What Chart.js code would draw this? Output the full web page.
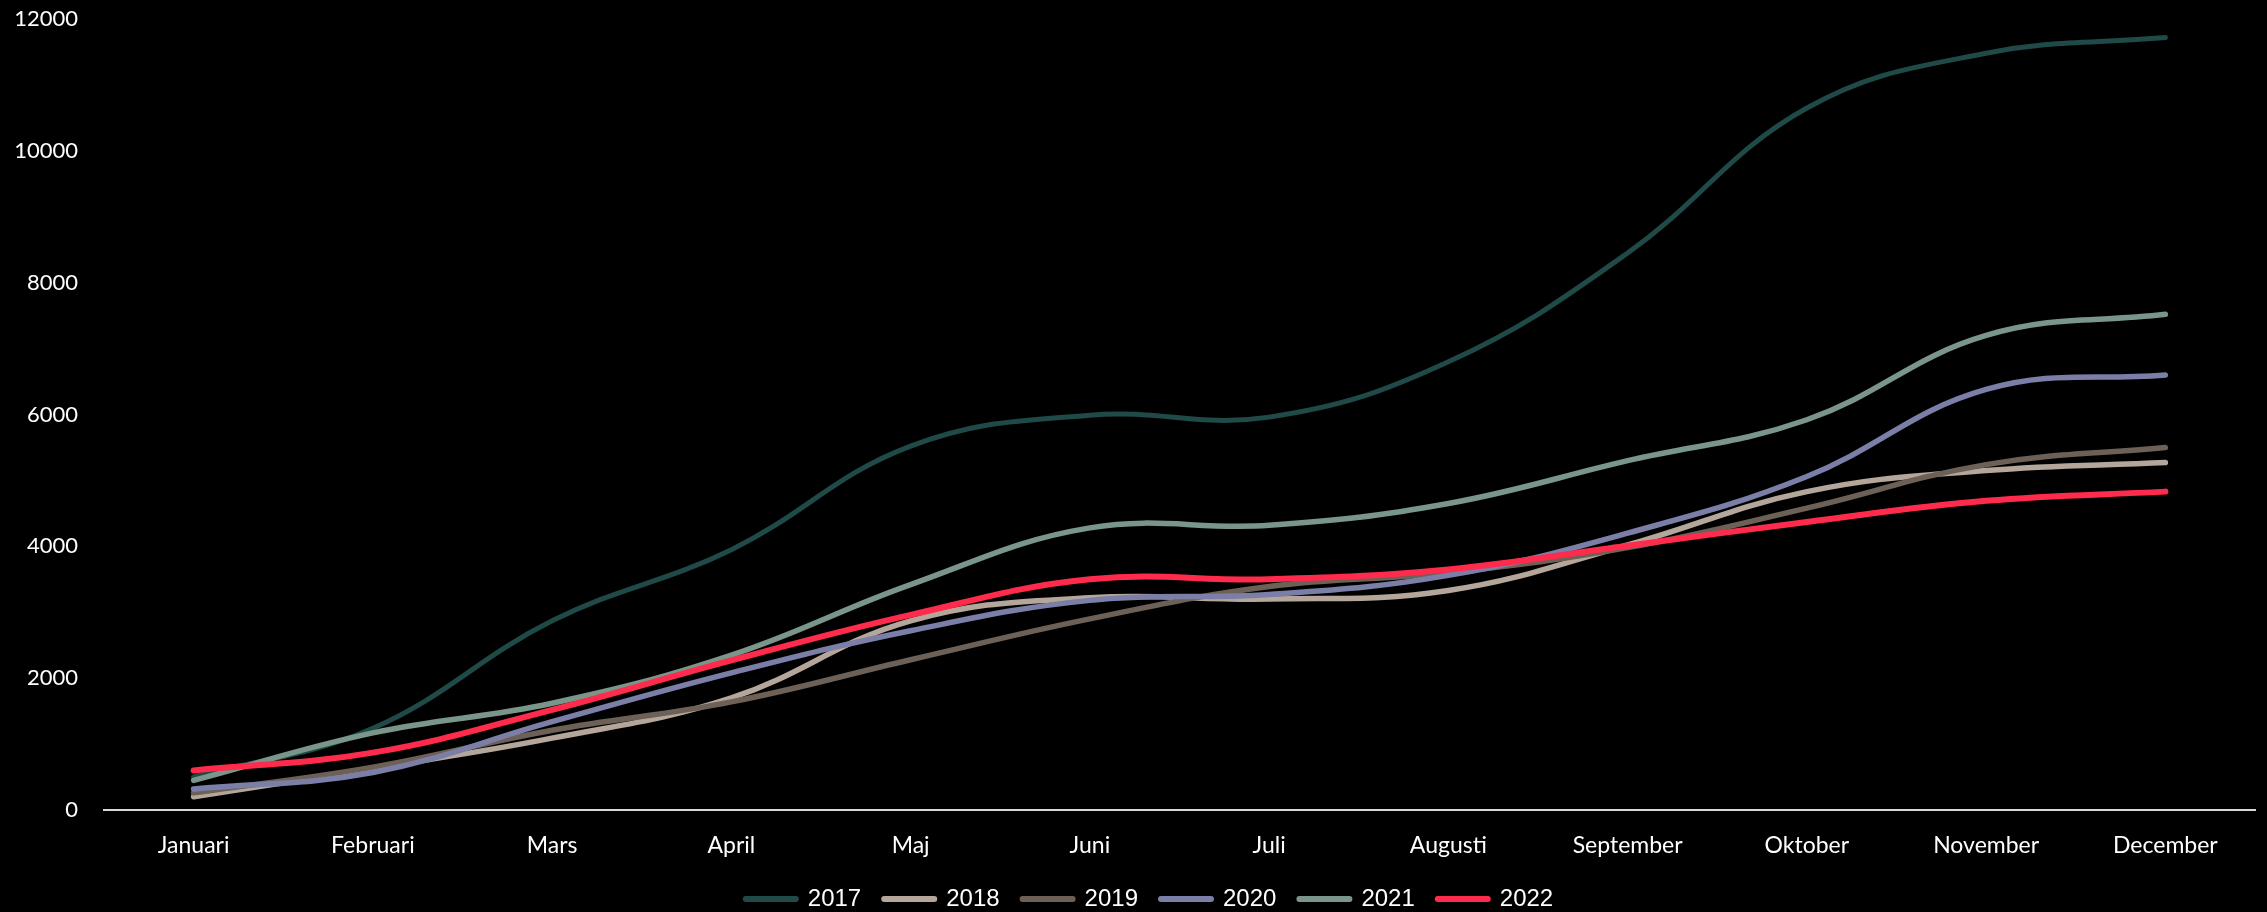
<!DOCTYPE html>
<html>
<head>
<meta charset="utf-8">
<script src="https://cdn.jsdelivr.net/npm/chart.js@4.4.1/dist/chart.umd.min.js"></script>
<style>
  html, body { margin: 0; padding: 0; background: #000; overflow: hidden; }
  #wrap { width: 2267px; height: 912px; overflow: hidden; }
</style>
</head>
<body>
<div id="wrap"><canvas id="salesChart" width="2267" height="921"></canvas></div>
<script>
const months = ['Januari', 'Februari', 'Mars', 'April', 'Maj', 'Juni', 'Juli', 'Augusti', 'September', 'Oktober', 'November', 'December'];
const yTicks = [0, 2000, 4000, 6000, 8000, 10000, 12000];

const y2017 = [500, 1240, 2870, 3950, 5520, 5990, 5960, 6800, 8450, 10650, 11480, 11720];
const y2018 = [200, 630, 1090, 1700, 2870, 3220, 3200, 3330, 4020, 4830, 5150, 5270];
const y2019 = [260, 650, 1210, 1640, 2280, 2900, 3390, 3600, 3980, 4580, 5240, 5500];
const y2020 = [320, 570, 1340, 2080, 2720, 3180, 3270, 3560, 4200, 5060, 6380, 6600];
const y2021 = [450, 1170, 1620, 2350, 3420, 4280, 4320, 4650, 5300, 5920, 7200, 7520];
const y2022 = [600, 870, 1520, 2270, 2960, 3500, 3500, 3650, 4010, 4370, 4690, 4830];

const series = [
  { label: '2017', data: y2017, color: '#1f4a47', width: 5 },
  { label: '2018', data: y2018, color: '#b4a69a', width: 5.5 },
  { label: '2019', data: y2019, color: '#6d6157', width: 5.5 },
  { label: '2020', data: y2020, color: '#7b7fa7', width: 5.5 },
  { label: '2021', data: y2021, color: '#7a9589', width: 5.5 },
  { label: '2022', data: y2022, color: '#ff2b4c', width: 6 }
];

// the legend in the original sits a bit right of the canvas centre
const legendShift = {
  id: 'legendShift',
  afterLayout(chart) {
    chart.legend.left += 44;
  }
};

const ctx = document.getElementById('salesChart').getContext('2d');

const salesChart = new Chart(ctx, {
  type: 'line',
  data: {
    labels: months,
    datasets: series.map((s, i) => ({
      label: s.label,
      data: s.data,
      borderColor: s.color,
      backgroundColor: s.color,
      borderWidth: s.width,
      borderCapStyle: 'round',
      tension: 0.4,
      pointRadius: 0,
      fill: false,
      // later years drawn on top, like the original
      order: series.length - i
    }))
  },
  plugins: [legendShift],
  options: {
    responsive: false,
    animation: false,
    layout: {
      padding: { left: 0, right: 12, top: 19, bottom: 0 }
    },
    plugins: {
      tooltip: { enabled: false },
      legend: {
        position: 'bottom',
        labels: {
          color: '#fff',
          font: { family: "'Liberation Sans', Arial, sans-serif", size: 24 },
          usePointStyle: true,
          pointStyle: 'line',
          pointStyleWidth: 50,
          boxHeight: 24,
          padding: 23,
          generateLabels: (chart) => {
            const items = Chart.defaults.plugins.legend.labels.generateLabels(chart);
            items.forEach(it => { it.lineWidth = 6; it.lineCap = 'round'; });
            return items.sort((a, b) => a.datasetIndex - b.datasetIndex);
          }
        }
      }
    },
    scales: {
      x: {
        offset: true,
        grid: { display: false, drawTicks: false },
        border: { display: true, color: '#d9d9d9', width: 2 },
        ticks: {
          color: '#fff',
          padding: 22,
          maxRotation: 0,
          font: { family: 'Lato', size: 23 }
        },
        afterFit: (axis) => {
          axis.height = 54;
          axis.paddingLeft = 0;
          axis.paddingRight = 0;
        }
      },
      y: {
        min: 0,
        max: 12000,
        afterBuildTicks: (axis) => { axis.ticks = yTicks.map(v => ({ value: v })); },
        grid: { display: false, drawTicks: false },
        border: { display: false },
        ticks: {
          color: '#fff',
          padding: 26,
          font: { family: 'Lato', size: 22 },
          callback: (v) => String(v)
        },
        afterFit: (axis) => {
          axis.width = 104;
          axis.paddingTop = 0;
          axis.paddingBottom = 0;
        }
      }
    }
  }
});
</script>
</body>
</html>
